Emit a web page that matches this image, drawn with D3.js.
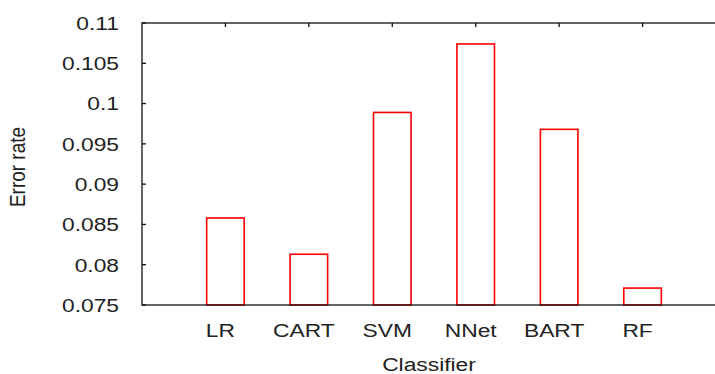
<!DOCTYPE html>
<html>
<head>
<meta charset="utf-8">
<script src="https://cdn.jsdelivr.net/npm/d3@7"></script>
<style>
  body { margin: 0; background: #fff; }
  text { font-family: "Liberation Sans", Arial, sans-serif; fill: #222; }
</style>
</head>
<body>
<div id="chart"></div>
<script>
const classifiers = ["LR", "CART", "SVM", "NNet", "BART", "RF"];
const errorRates = [0.0858, 0.0813, 0.0989, 0.1074, 0.0968, 0.0771];
const yTicks = [0.075, 0.08, 0.085, 0.09, 0.095, 0.1, 0.105, 0.11];

const WIDTH = 715;
const HEIGHT = 374;
const PLOT = { left: 142, top: 23, right: 726, bottom: 305 };
const STRETCH = 1.2; // text looks horizontally widened in the reference
const FONT = 19;

const svg = d3.select("#chart")
    .append("svg")
    .attr("width", WIDTH)
    .attr("height", HEIGHT);

// category positions 1..n on a linear axis 0..n+1
const x = d3.scaleLinear()
    .domain([0, classifiers.length + 1])
    .range([PLOT.left, PLOT.right]);

const y = d3.scaleLinear()
    .domain([0.075, 0.11])
    .range([PLOT.bottom, PLOT.top]);

const barW = x(0.45) - x(0);

// Bars (outlined)
svg.selectAll("rect.bar")
    .data(errorRates)
    .join("rect")
    .attr("class", "bar")
    .attr("x", (d, i) => x(i + 1) - barW / 2)
    .attr("y", (d) => y(d))
    .attr("width", barW)
    .attr("height", (d) => y(0.075) - y(d))
    .attr("fill", "none")
    .attr("stroke", "#ff0000")
    .attr("stroke-width", 1.6);

// Frame
const frame = svg.append("g")
    .attr("stroke", "#111")
    .attr("stroke-width", 1.3)
    .attr("fill", "none");

frame.append("rect")
    .attr("x", PLOT.left)
    .attr("y", PLOT.top)
    .attr("width", PLOT.right - PLOT.left)
    .attr("height", PLOT.bottom - PLOT.top);

// Y ticks pointing inward
frame.selectAll("line.ytick")
    .data(yTicks)
    .join("line")
    .attr("class", "ytick")
    .attr("x1", PLOT.left)
    .attr("x2", PLOT.left + 4)
    .attr("y1", (d) => y(d))
    .attr("y2", (d) => y(d));

// Top ticks at category positions
frame.selectAll("line.xtick")
    .data(classifiers)
    .join("line")
    .attr("class", "xtick")
    .attr("x1", (d, i) => x(i + 1))
    .attr("x2", (d, i) => x(i + 1))
    .attr("y1", PLOT.top)
    .attr("y2", PLOT.top + 4);

// Y tick labels
svg.selectAll("text.ylabel")
    .data(yTicks)
    .join("text")
    .attr("class", "ylabel")
    .attr("text-anchor", "end")
    .attr("dy", "0.36em")
    .attr("transform", (d) => `translate(119,${y(d)}) scale(${STRETCH},1)`)
    .style("font-size", FONT + "px")
    .text((d) => d3.format("~g")(d));

// X tick labels
svg.selectAll("text.xlabel")
    .data(classifiers)
    .join("text")
    .attr("class", "xlabel")
    .attr("text-anchor", "middle")
    .attr("transform", (d, i) => `translate(${x(i + 1) - 5},337) scale(${STRETCH},1)`)
    .style("font-size", FONT + "px")
    .text((d) => d);

// Axis titles
svg.append("text")
    .attr("text-anchor", "middle")
    .attr("transform", `translate(429,371) scale(${STRETCH},1)`)
    .style("font-size", FONT + "px")
    .text("Classifier");

svg.append("text")
    .attr("text-anchor", "middle")
    .attr("transform", `translate(25,167) rotate(-90) scale(1,${STRETCH})`)
    .style("font-size", FONT + "px")
    .text("Error rate");
</script>
</body>
</html>
